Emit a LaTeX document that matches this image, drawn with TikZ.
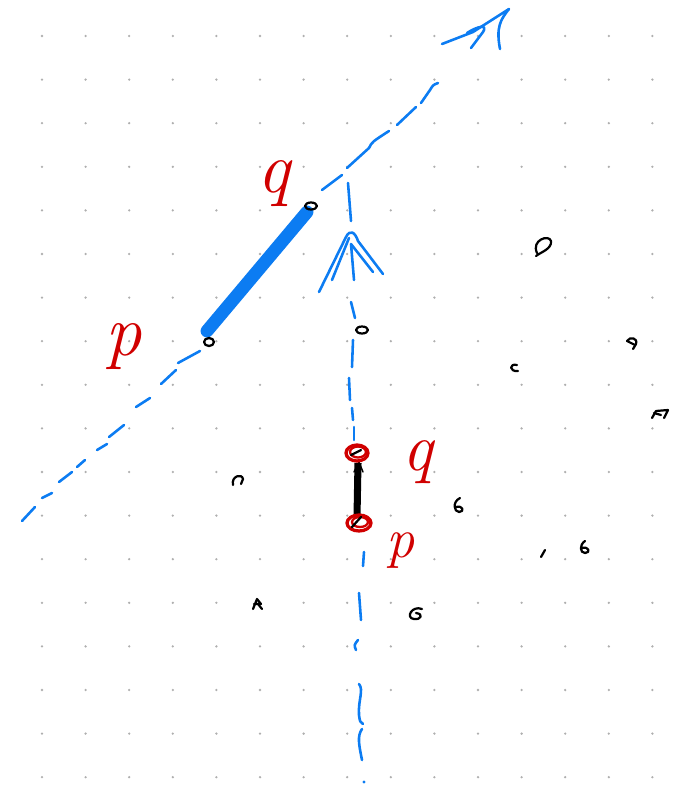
\documentclass[tikz,border=0pt]{standalone}
\usepackage{tikz}
\usetikzlibrary{calc}
\definecolor{penblue}{RGB}{12,124,242}
\definecolor{penred}{RGB}{208,0,0}
\definecolor{dotgray}{RGB}{175,175,175}
\tikzstyle{bluepen} = [draw=penblue, line width=2.2pt, line cap=round, line join=round]
\tikzstyle{vecpen} = [draw=penblue, line width=11pt, line cap=round]
\tikzstyle{redpen} = [draw=penred, line width=2.8pt]
\tikzstyle{inkpen} = [draw=black, line width=1.9pt, line cap=round, line join=round]
\tikzstyle{handlabel} = [text=penred, inner sep=0pt, font=\fontsize{58}{58}\selectfont\itshape]

\begin{document}
\begin{tikzpicture}[x=0.03cm, y=-0.03cm]
    \useasboundingbox (0,0) rectangle (678,787);
    % dot grid
    \foreach \i in {0,...,14}
        \foreach \j in {0,...,17}
            \fill[dotgray] ({42+43.6*\i},{36+43.6*\j}) circle (1.1pt);

    % end points of the two vectors
    \coordinate (p1) at (207,331);
    \coordinate (q1) at (307,212);
    \coordinate (p2) at (357,517);
    \coordinate (q2) at (358,463);
    \coordinate (tipa) at (509,9);
    \coordinate (tipb) at (352,233);

    % slanted axis
    \foreach \xa/\ya/\xb/\yb in {22/521/35/507, 42/498/52/493, 59/482/72/472, 77/467/85/460,
            97/450/107/444, 109/437/124/425, 136/407/150/398, 161/384/176/370, 178/363/200/351,
            322/190/342/175, 397/125/416/107}
        \draw[bluepen] (\xa,\ya) -- (\xb,\yb);
    \draw[bluepen] (347,168) -- (369,148) .. controls (372,142) .. (389,131);
    \draw[bluepen] (421,103) -- (430,90) .. controls (433,85) .. (438,83);
    \draw[bluepen] (442,44) -- (473,32) -- (tipa);
    \draw[bluepen] (467,33) .. controls (478,26) and (488,24) .. (483,32) -- (471,48);
    \draw[bluepen] (tipa) .. controls (500,20) and (496,28) .. (500,49);

    % upright axis
    \foreach \xa/\ya/\xb/\yb in {348/183/351/221, 351/302/355/318, 353/340/352/367,
            349/378/350/400, 352/408/353/420, 354/427/354/440, 364/552/363/566, 359/593/361/620}
        \draw[bluepen] (\xa,\ya) -- (\xb,\yb);
    \draw[bluepen] (358,640) .. controls (354,645) .. (356,650);
    \draw[bluepen] (359,684) .. controls (364,690) and (358,700) .. (359,715) .. controls (360,722) .. (363,724);
    \draw[bluepen] (362,729) .. controls (357,736) and (359,745) .. (362,760);
    \fill[penblue] (364,782) circle (1.3pt);
    \draw[bluepen] (319,292) -- (346,237) .. controls (350,229) and (355,232) .. (358,241) -- (383,274);
    \draw[bluepen] (332,280) -- (349,238);
    \draw[bluepen] (354,280) -- (351,244) -- (373,272);

    % the two vectors
    \draw[vecpen] (p1) -- (q1);
    \draw[inkpen] (p1) ++(2,11) ellipse [x radius=5, y radius=4];
    \draw[inkpen] (q1) ++(4,-6) ellipse [x radius=6, y radius=3.5];
    \draw[inkpen] (362,330) ellipse [x radius=6, y radius=3.5];
    \draw[draw=black, line width=6pt] (p2) -- (q2);
    \draw[inkpen, line width=1.2pt] (354,472) -- (359,462) -- (363,472);
    \draw[redpen] (357,453) ellipse [x radius=11, y radius=8];
    \draw[redpen, line width=2pt] (358,452) ellipse [x radius=8, y radius=5.5];
    \draw[inkpen] (351,455) -- (361,450);
    \draw[redpen] (359,523) ellipse [x radius=12, y radius=8];
    \draw[redpen, line width=2pt] (360,522) ellipse [x radius=8, y radius=5];
    \draw[inkpen] (352,527) -- (361,517);

    % labels
    \node (labp1) [handlabel, font=\fontsize{62}{62}\selectfont\itshape] at (124,347) {p};
    \node (labq1) [handlabel, font=\fontsize{62}{62}\selectfont\itshape] at (274,184) {q};
    \node (labq2) [handlabel] at (418,462) {q};
    \node (labp2) [handlabel, font=\fontsize{48}{48}\selectfont\itshape] at (401,551) {p};

    % stray pen marks
    \draw[inkpen] (537,253) .. controls (531,240) and (549,234) .. (551,241) .. controls (552,249) and (541,252) .. (536,256);
    \draw[inkpen] (627,341) .. controls (630,336) and (638,338) .. (636,344) -- (633,349);
    \draw[inkpen] (627,341) -- (635,345);
    \draw[inkpen] (517,365) .. controls (509,363) and (509,372) .. (518,371);
    \draw[inkpen] (652,418) -- (656,411) -- (668,410) -- (664,418);
    \draw[inkpen] (654,413) -- (661,415);
    \draw[inkpen] (233,485) .. controls (231,476) and (242,473) .. (243,479) -- (241,484);
    \draw[inkpen] (460,498) .. controls (452,502) and (454,512) .. (459,512) .. controls (465,512) and (463,505) .. (456,507);
    \draw[inkpen] (541,557) -- (545,550);
    \draw[inkpen] (585,541) .. controls (579,545) and (580,553) .. (585,553) .. controls (591,553) and (589,546) .. (582,548);
    \draw[inkpen] (253,609) -- (257,599) -- (261,604) -- (254,604);
    \draw[inkpen] (258,604) -- (262,609);
    \draw[inkpen] (422,609) .. controls (412,605) and (405,618) .. (414,619) .. controls (421,620) and (424,614) .. (416,613);
\end{tikzpicture}
\end{document}
